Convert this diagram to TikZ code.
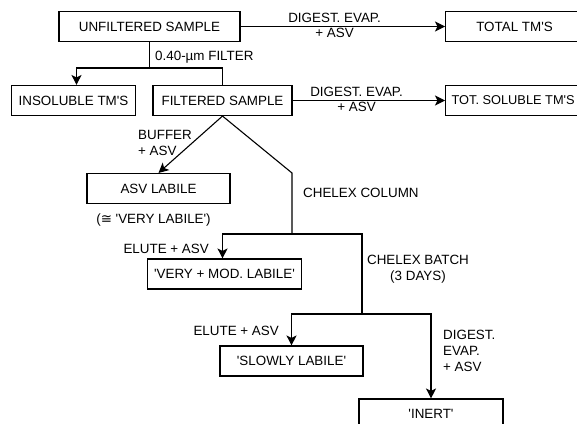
\documentclass[tikz,border=0pt]{standalone}
\usepackage{fontspec}
\setmainfont{Liberation Sans}
\newfontfamily\symfont{DejaVu Sans}
\usetikzlibrary{arrows.meta,positioning}

\begin{document}
\begin{tikzpicture}[
  x=1pt, y=-1pt,
  tmbox/.style={draw, line width=1.1pt, minimum height=30pt, inner xsep=7pt,
                align=center, font=\fontsize{13.4}{16}\selectfont},
  lbl/.style={inner sep=1pt, font=\fontsize{13.4}{16}\selectfont},
  flow/.style={line width=1.1pt},
  arr/.style={flow, -{Stealth[length=10pt,width=10pt,inset=2.5pt]}}
]
  \useasboundingbox (0,0) rectangle (577,423);
  \node[tmbox, minimum width=181pt] (unf) at (149.5,26.5) {UNFILTERED SAMPLE};
  \node[tmbox, minimum width=138pt, anchor=west] (tot) at (445,26.5) {TOTAL TM\textquotesingle S};
  \node[tmbox, minimum width=123pt] (ins) at (73.5,100.5) {INSOLUBLE TM\textquotesingle S};
  \node[tmbox, minimum width=139pt] (fil) at (222.5,100.5) {FILTERED SAMPLE};
  \node[tmbox, inner xsep=6pt, anchor=west, font=\fontsize{12.8}{16}\selectfont] (sol) at (445,100.5) {TOT. SOLUBLE TM\textquotesingle S};
  \node[tmbox, minimum width=143pt] (asv) at (158.5,188.5) {ASV LABILE};
  \node[tmbox, minimum width=149pt] (vml) at (224.5,274) {\textquotesingle VERY + MOD. LABILE\textquotesingle};
  \node[tmbox, minimum width=143pt] (slow) at (291.5,361) {\textquotesingle SLOWLY LABILE\textquotesingle};
  \node[tmbox, minimum width=144pt] (inert) at (431,414) {\textquotesingle INERT\textquotesingle};

  \node[lbl, anchor=base] (asvnote) at (153.5,223) {({\symfont ≅} \textquotesingle VERY LABILE\textquotesingle)};
  \node[lbl, anchor=base west] (filt) at (154,60) {0.40-µm FILTER};
  \node[lbl, anchor=north west, align=left] (buf) at (137,129.5) {BUFFER\\+ ASV};
  \node[lbl, anchor=base west] (ccol) at (302,197) {CHELEX COLUMN};
  \node[lbl, anchor=base east] (elute1) at (210,253.5) {ELUTE + ASV};
  \node[lbl, anchor=north, align=center] (cbat) at (418,254) {CHELEX BATCH\\(3 DAYS)};
  \node[lbl, anchor=base east] (elute2) at (280,335) {ELUTE + ASV};
  \node[lbl, anchor=north west, align=left] (dig) at (442,329) {DIGEST.\\EVAP.\\+ ASV};

  \coordinate (split) at (149.5,68);
  \coordinate (bend) at (292,173);
  \coordinate (col) at (292,234);
  \coordinate (bat) at (362,314);

  \draw[arr] (unf) -- (tot)
    node[lbl, pos=.46, above=2pt] {DIGEST. EVAP.}
    node[lbl, pos=.46, below] {+ ASV};
  \draw[flow] (unf.south) -- (split);
  \draw[arr] (split) -| ([xshift=3pt]ins.north);
  \draw[flow] (split) -| (fil.north);
  \draw[arr] (fil) -- (sol)
    node[lbl, pos=.42, above=2pt] {DIGEST. EVAP.}
    node[lbl, pos=.42, below] {+ ASV};
  \draw[arr] (fil.south) -- (asv.north);
  \draw[flow] (fil.south) -- (bend) -- (col);
  \draw[arr] (col) -| ([xshift=-2pt]vml.north);
  \draw[flow] (col) -| (bat);
  \draw[arr] (bat) -| (slow.north);
  \draw[arr] (bat) -| (inert.north);
\end{tikzpicture}
\end{document}
